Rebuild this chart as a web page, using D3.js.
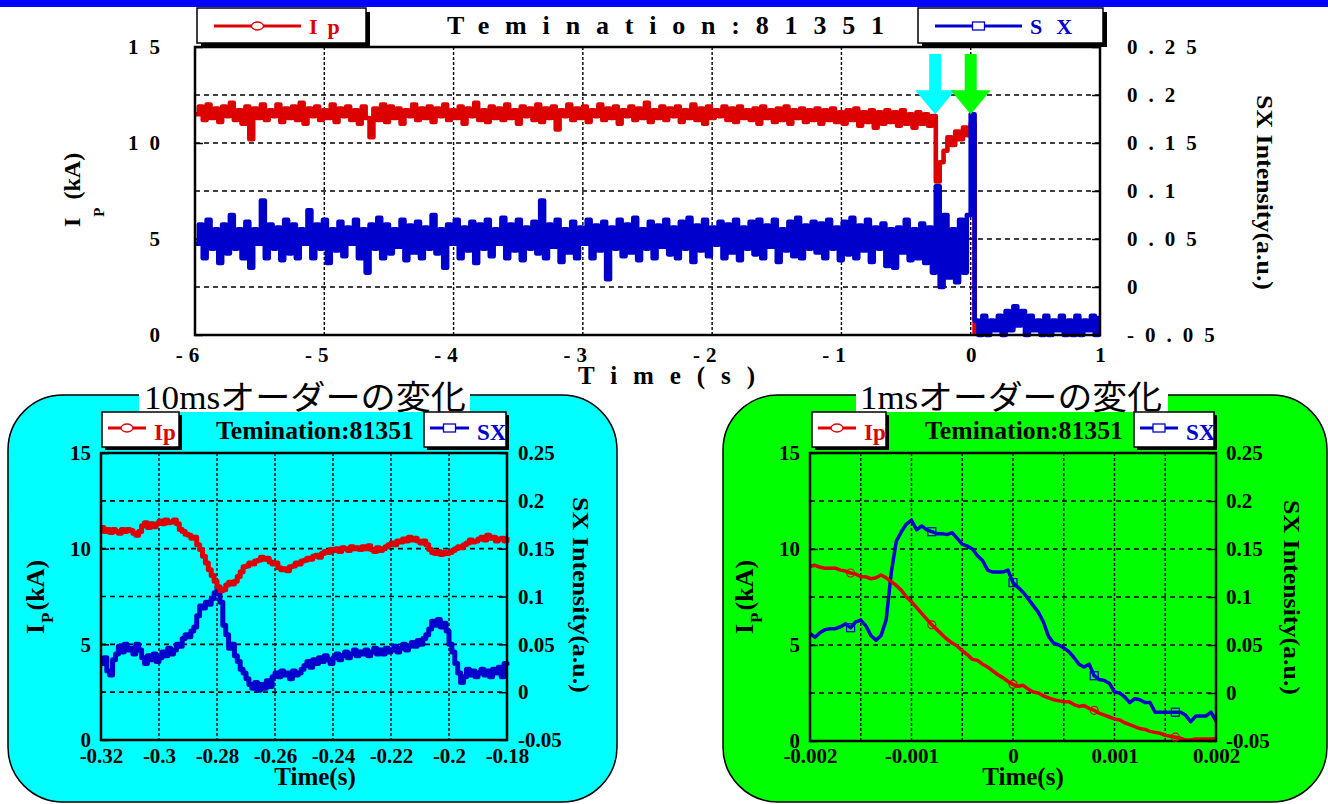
<!DOCTYPE html>
<html lang="ja">
<head>
<meta charset="UTF-8" />
<title>Ip / SX termination 81351</title>
<style>
  * { margin:0; padding:0; }
  body { background:#fff; overflow:hidden; }
  svg { display:block; font-family:'Liberation Serif','Times New Roman',serif; }
</style>
</head>
<body>
<script src="https://d3js.org/d3.v7.min.js"></script>
<script>
  // ---- data ----
  // whole discharge, sampled every 30 ms from -6 s
  const topStart = -6, topStep = 0.03;
  const topIp = [
    11.5,11.9,11.2,12.0,11.3,11.8,11.1,11.9,11.4,12.1,11.2,11.7,11.0,11.9,10.2,11.8,11.3,12.0,11.2,11.7,
    11.4,12.0,11.1,11.8,11.3,11.9,11.2,12.1,11.0,11.8,11.4,11.9,11.2,11.7,11.3,12.0,11.1,11.8,11.4,11.9,
    11.2,11.7,11.0,11.9,11.3,10.3,11.8,11.2,12.0,11.1,11.9,11.3,11.8,11.0,11.7,11.4,12.0,11.2,11.8,11.3,
    11.9,11.1,11.8,11.4,12.0,11.2,11.7,11.3,11.9,11.0,11.8,11.4,12.1,11.2,11.7,11.1,11.9,11.3,11.8,11.2,
    12.0,11.3,11.7,11.0,11.9,11.4,11.8,11.2,12.0,11.1,11.8,11.3,11.9,10.7,11.7,11.4,12.0,11.2,11.8,11.3,
    11.9,11.1,11.7,11.4,12.0,11.2,11.8,11.3,11.9,11.0,11.7,11.4,11.9,11.2,11.8,11.3,12.1,11.1,11.7,11.3,
    11.9,11.2,11.8,11.4,11.9,11.1,11.7,11.3,12.0,11.2,11.8,11.0,11.9,11.3,11.7,11.4,11.9,11.2,11.8,11.1,
    11.9,11.3,11.7,11.2,11.8,11.0,11.9,11.3,11.7,11.1,11.8,11.2,11.9,11.0,11.7,11.3,11.8,11.1,11.7,11.2,
    11.8,11.0,11.7,11.2,11.8,11.1,11.6,11.0,11.7,11.2,11.8,10.9,11.6,11.1,11.7,10.8,11.6,11.0,11.7,11.1,
    11.6,10.9,11.7,11.0,11.5,10.8,11.6,11.0,11.5,10.9,11.4,8.0,9.0,9.6,10.3,9.9,10.6,10.2,10.8,10.4,
    11.0,0
  ];
  const topSx = [
    0.045,0.065,0.03,0.07,0.04,0.06,0.025,0.065,0.035,0.075,0.04,0.06,0.03,0.068,0.02,0.06,0.045,0.09,0.03,0.065,
    0.04,0.062,0.028,0.07,0.035,0.065,0.03,0.06,0.045,0.08,0.03,0.065,0.04,0.07,0.025,0.06,0.038,0.068,0.032,0.062,
    0.045,0.07,0.03,0.06,0.015,0.065,0.04,0.072,0.03,0.065,0.035,0.06,0.042,0.07,0.028,0.064,0.036,0.068,0.03,0.062,
    0.04,0.075,0.035,0.06,0.02,0.065,0.045,0.07,0.03,0.062,0.038,0.068,0.025,0.065,0.04,0.07,0.032,0.06,0.045,0.072,
    0.03,0.065,0.038,0.07,0.028,0.062,0.04,0.068,0.035,0.09,0.03,0.065,0.042,0.07,0.026,0.06,0.036,0.068,0.03,0.062,
    0.045,0.07,0.03,0.064,0.038,0.068,0.008,0.062,0.04,0.07,0.032,0.065,0.036,0.072,0.028,0.06,0.04,0.068,0.03,0.064,
    0.042,0.07,0.034,0.062,0.03,0.068,0.04,0.072,0.026,0.064,0.038,0.07,0.032,0.062,0.044,0.068,0.03,0.065,0.036,0.07,
    0.028,0.062,0.04,0.068,0.034,0.07,0.03,0.064,0.042,0.07,0.026,0.06,0.038,0.068,0.032,0.072,0.03,0.064,0.04,0.068,
    0.036,0.066,0.03,0.07,0.04,0.062,0.028,0.068,0.034,0.072,0.03,0.064,0.038,0.07,0.026,0.062,0.04,0.066,0.022,0.06,
    0.02,0.062,0.036,0.07,0.028,0.06,0.03,0.066,0.025,0.062,0.015,0.105,0.0,0.075,0.01,0.06,0.005,0.07,0.015,0.075,
    0.18,
    -0.035,-0.05,-0.03,-0.05,-0.035,-0.045,-0.03,-0.05,-0.025,-0.045,-0.02,-0.04,-0.025,-0.05,-0.03,-0.045,-0.035,
    -0.05,-0.03,-0.05,-0.035,-0.045,-0.03,-0.05,-0.035,-0.05,-0.03,-0.05,-0.035,-0.045,-0.03,-0.05,-0.03
  ];
  // 10 ms window, sampled every 1 ms from -0.32 s
  const midStart = -0.32, midStep = 0.001;
  const midIp = [
    11.1,10.9,11.0,10.85,11.0,10.9,10.8,11.0,10.9,11.0,
    10.95,10.8,10.7,10.9,11.2,11.35,11.1,11.3,11.15,11.3,
    11.45,11.3,11.5,11.35,11.4,11.5,11.3,11.0,10.9,10.75,
    10.7,10.55,10.6,10.2,9.95,9.6,9.25,8.9,8.6,8.3,
    8.0,7.8,7.85,8.1,8.25,8.15,8.3,8.55,8.8,9.05,
    9.1,9.25,9.2,9.35,9.4,9.55,9.45,9.5,9.3,9.2,
    9.25,9.0,8.9,8.95,8.85,9.05,9.1,9.25,9.2,9.35,
    9.4,9.5,9.45,9.6,9.65,9.55,9.75,9.85,9.8,9.95,
    9.9,10.0,9.85,10.05,10.0,9.9,10.1,10.0,10.05,9.95,
    10.1,10.0,10.15,9.95,9.85,10.05,9.9,10.0,10.1,10.2,
    10.3,10.2,10.4,10.35,10.5,10.4,10.6,10.45,10.55,10.4,
    10.3,10.4,10.2,9.95,9.8,9.75,9.85,9.7,9.8,9.75,
    9.8,9.9,10.0,10.1,10.05,10.2,10.3,10.45,10.35,10.4,
    10.5,10.6,10.45,10.7,10.55,10.6,10.4,10.5,10.55,10.4,
    10.6
  ];
  const midSx = [
    0.030,0.036,0.022,0.018,0.034,0.040,0.048,0.042,0.050,0.044,
    0.046,0.040,0.050,0.044,0.036,0.030,0.038,0.034,0.040,0.032,
    0.036,0.042,0.038,0.046,0.040,0.044,0.050,0.048,0.056,0.060,
    0.058,0.064,0.068,0.080,0.090,0.088,0.094,0.092,0.098,0.104,
    0.110,0.094,0.070,0.060,0.046,0.050,0.038,0.032,0.024,0.020,
    0.014,0.008,0.004,0.010,0.002,0.008,0.004,0.012,0.006,0.016,
    0.020,0.016,0.022,0.018,0.020,0.014,0.022,0.018,0.020,0.024,
    0.028,0.032,0.026,0.034,0.030,0.036,0.032,0.038,0.034,0.030,
    0.036,0.040,0.034,0.038,0.042,0.036,0.040,0.044,0.038,0.042,
    0.040,0.044,0.038,0.042,0.046,0.040,0.044,0.040,0.046,0.042,
    0.044,0.048,0.042,0.046,0.050,0.044,0.048,0.052,0.048,0.054,
    0.050,0.056,0.060,0.066,0.074,0.070,0.076,0.068,0.072,0.064,
    0.050,0.042,0.030,0.020,0.010,0.016,0.024,0.018,0.022,0.016,
    0.020,0.024,0.018,0.022,0.016,0.024,0.020,0.026,0.016,0.030,
    0.028
  ];
  // 1 ms window, sampled every 50 us from -0.002 s
  const fineStart = -0.002, fineStep = 0.00005;
  const fineIp = [
    9.1,9.15,9.05,9.0,9.0,9.0,8.9,8.85,8.75,8.7,
    8.55,8.55,8.45,8.5,8.65,8.5,8.3,8.1,7.85,7.5,
    7.25,6.95,6.65,6.35,6.05,5.8,5.55,5.3,5.1,4.95,
    4.7,4.5,4.25,4.2,4.0,3.85,3.65,3.45,3.3,3.1,
    2.95,2.85,2.9,2.7,2.55,2.5,2.35,2.25,2.15,2.1,
    2.05,2.05,1.9,1.8,1.85,1.7,1.6,1.45,1.35,1.25,
    1.15,1.1,0.95,0.85,0.75,0.65,0.6,0.5,0.45,0.4,
    0.3,0.25,0.2,0.15,0.05,0.05,0.1,0.1,0.1,0.1,
    0.12
  ];
  const fineSx = [
    0.062,0.058,0.063,0.066,0.067,0.067,0.069,0.072,0.068,0.074,
    0.076,0.070,0.060,0.055,0.060,0.076,0.125,0.158,0.168,0.176,
    0.180,0.170,0.174,0.170,0.168,0.166,0.166,0.165,0.167,0.161,
    0.155,0.153,0.150,0.143,0.138,0.128,0.126,0.126,0.126,0.128,
    0.115,0.110,0.105,0.098,0.091,0.084,0.074,0.059,0.052,0.050,
    0.047,0.043,0.037,0.030,0.027,0.030,0.018,0.014,0.013,0.010,
    0.001,0.000,-0.004,-0.010,-0.006,-0.007,-0.010,-0.010,-0.020,-0.020,
    -0.020,-0.020,-0.020,-0.020,-0.023,-0.030,-0.024,-0.024,-0.024,-0.020,
    -0.029
  ];
  const fineMarkerIdx = [8, 24, 40, 56, 72];

  const ipTicks = [0, 5, 10, 15];
  const sxTicks = [-0.05, 0, 0.05, 0.1, 0.15, 0.2, 0.25];
  const topXTicks = [-6, -5, -4, -3, -2, -1, 0, 1];
  const midXTicks = [-0.32, -0.3, -0.28, -0.26, -0.24, -0.22, -0.2, -0.18];
  const fineXTicks = [-0.002, -0.001, 0, 0.001, 0.002];
  const fineXGrid = [-0.0015, -0.001, -0.0005, 0, 0.0005, 0.001, 0.0015];
  const arrowTimes = [-0.275, 0.0];
  const arrowLevel = 0.18;
  const shotTitle = 'Temination:81351';
  const panelTitles = ['10msオーダーの変化', '1msオーダーの変化'];

  const RED = '#dc0000', BLUE = '#0000cc';
  const SERIF = "'Liberation Serif','Times New Roman',serif";

  const svg = d3.select('body').append('svg').attr('width', 1328).attr('height', 804);

  const toSeries = (arr, start, step) => arr.map((v, i) => ({ t: start + i * step, v }));
  const fmt = d => String(+d.toFixed(4));

  // top blue band
  svg.append('rect').attr('x', 0).attr('y', 0).attr('width', 1328).attr('height', 7).attr('fill', '#0000ff');

  // coloured panels behind the two zoomed charts
  svg.append('rect').attr('x', 8).attr('y', 395).attr('width', 609).attr('height', 407).attr('rx', 55)
    .attr('fill', '#00ffff').attr('stroke', '#000').attr('stroke-width', 1.5);
  svg.append('rect').attr('x', 723).attr('y', 395).attr('width', 604).attr('height', 407).attr('rx', 55)
    .attr('fill', '#00ff00').attr('stroke', '#000').attr('stroke-width', 1.5);

  function drawChart(o) {
    const g = svg.append('g');
    const x = d3.scaleLinear().domain(o.xDomain).range([o.left, o.right]);
    const yI = d3.scaleLinear().domain([0, 15]).range([o.bottom, o.top]);
    const yS = d3.scaleLinear().domain([-0.05, 0.25]).range([o.bottom, o.top]);

    // grid
    g.append('g').selectAll('line').data(sxTicks.slice(1, -1)).join('line')
      .attr('x1', o.left).attr('x2', o.right).attr('y1', d => yS(d)).attr('y2', d => yS(d))
      .attr('stroke', '#000').attr('stroke-width', 1.6).attr('stroke-dasharray', '5,4');
    g.append('g').selectAll('line').data(o.xGrid).join('line')
      .attr('x1', d => x(d)).attr('x2', d => x(d)).attr('y1', o.top).attr('y2', o.bottom)
      .attr('stroke', '#000').attr('stroke-width', 1.4).attr('stroke-dasharray', '3,2');

    const styleAxis = a => {
      a.select('.domain').remove();
      a.attr('font-family', SERIF).attr('font-size', o.fs).attr('font-weight', 'bold');
      a.selectAll('line').attr('stroke', '#000').attr('stroke-width', 1.5);
      a.selectAll('text').attr('fill', '#000').attr('letter-spacing', o.ls || null);
    };
    g.append('g').attr('transform', `translate(${o.left},0)`)
      .call(d3.axisLeft(yI).tickValues(ipTicks).tickSizeInner(-8).tickSizeOuter(0).tickPadding(o.padL).tickFormat(fmt))
      .call(styleAxis);
    g.append('g').attr('transform', `translate(${o.right},0)`)
      .call(d3.axisRight(yS).tickValues(sxTicks).tickSizeInner(-8).tickSizeOuter(0).tickPadding(o.padR).tickFormat(fmt))
      .call(styleAxis);
    const xa = g.append('g').attr('transform', `translate(0,${o.bottom})`)
      .call(d3.axisBottom(x).tickValues(o.xTicks).tickSizeInner(0).tickSizeOuter(0).tickPadding(o.padB).tickFormat(fmt))
      .call(styleAxis);
    if (o.xls) xa.selectAll('text').attr('letter-spacing', o.xls).attr('dx', d => d < 0 ? -5 : 3);

    // series
    const path = (data, y, color) => g.append('path').datum(data)
      .attr('d', d3.line().x(d => x(d.t)).y(d => y(d.v)).curve(o.curve))
      .attr('fill', 'none').attr('stroke', color).attr('stroke-width', o.lw).attr('stroke-linejoin', 'round');
    if (o.sxFirst) { path(o.sx, yS, BLUE); path(o.ip, yI, RED); }
    else { path(o.ip, yI, RED); path(o.sx, yS, BLUE); }

    // frame
    g.append('rect').attr('x', o.left).attr('y', o.top).attr('width', o.right - o.left).attr('height', o.bottom - o.top)
      .attr('fill', 'none').attr('stroke', '#000').attr('stroke-width', 2.5);
    return { g, x, yI, yS };
  }

  function legendBox(x0, y0, w, h, sh) {
    svg.append('rect').attr('x', x0 + sh).attr('y', y0 + sh).attr('width', w).attr('height', h).attr('fill', '#000');
    svg.append('rect').attr('x', x0).attr('y', y0).attr('width', w).attr('height', h)
      .attr('fill', '#fff').attr('stroke', '#000').attr('stroke-width', 1.5);
  }
  function legendEntry(x1, x2, y, ty, color, label, fs, ls, square) {
    svg.append('line').attr('x1', x1).attr('x2', x2).attr('y1', y).attr('y2', y)
      .attr('stroke', color).attr('stroke-width', 3);
    const mx = (x1 + x2) / 2;
    if (square) svg.append('rect').attr('x', mx - 6).attr('y', y - 4).attr('width', 12).attr('height', 8)
      .attr('fill', '#fff').attr('stroke', color).attr('stroke-width', 1.3);
    else svg.append('ellipse').attr('cx', mx).attr('cy', y).attr('rx', 6).attr('ry', 4)
      .attr('fill', '#fff').attr('stroke', color).attr('stroke-width', 1.3);
    svg.append('text').attr('x', x2 + 8).attr('y', ty).attr('fill', color).attr('font-size', fs)
      .attr('font-weight', 'bold').attr('letter-spacing', ls || null).text(label);
  }
  function rotText(x, y, angle, size, txt, len) {
    const t = svg.append('text').attr('transform', `translate(${x},${y}) rotate(${angle})`)
      .attr('font-size', size).attr('font-weight', 'bold').attr('fill', '#000').text(txt);
    if (len) t.attr('textLength', len).attr('lengthAdjust', 'spacingAndGlyphs');
    return t;
  }
  function ipTitle(x, y, size, sub, subDy, gap) {
    const t = svg.append('text').attr('transform', `translate(${x},${y}) rotate(-90)`)
      .attr('font-size', size).attr('font-weight', 'bold').attr('fill', '#000');
    t.append('tspan').text('I');
    t.append('tspan').attr('dy', subDy).attr('dx', 1).attr('font-size', sub).text('P');
    t.append('tspan').attr('dy', -subDy).attr('dx', gap).text('(kA)');
  }

  // ---------- top chart: whole shot ----------
  const mainChart = drawChart({
    left: 195, right: 1100, top: 47, bottom: 335, xDomain: [-6, 1],
    xTicks: topXTicks, xGrid: topXTicks.slice(1, -1),
    ip: toSeries(topIp, topStart, topStep), sx: toSeries(topSx, topStart, topStep),
    curve: d3.curveStepAfter, lw: 4.6, fs: 21, ls: 11, xls: 6, padL: 24, padR: 27, padB: 12
  });
  legendBox(197, 8, 169, 35, 4);
  legendEntry(214, 301, 26, 34, RED, 'Ip', 22, 10, false);
  legendBox(918, 8, 185, 35, 4);
  legendEntry(935, 1022, 26, 34, BLUE, 'SX', 22, 14, true);
  svg.append('text').attr('x', 447).attr('y', 34).attr('font-size', 26).attr('font-weight', 'bold')
    .attr('textLength', 437).attr('lengthAdjust', 'spacing').text(shotTitle);
  svg.append('text').attr('x', 578).attr('y', 384).attr('font-size', 25).attr('font-weight', 'bold')
    .attr('textLength', 177).attr('lengthAdjust', 'spacing').text('Time(s)');
  ipTitle(80, 227, 24, 15, 24, 8);
  rotText(1257, 95, 90, 24, 'SX Intensity(a.u.)', 195);

  // arrows marking the two zoomed instants
  const arrowColors = ['#00ffff', '#00ff00'];
  arrowTimes.forEach((t, i) => {
    const cx = mainChart.x(t), tip = mainChart.yS(arrowLevel);
    const pts = [[cx - 6, 54], [cx + 6, 54], [cx + 6, tip - 24], [cx + 20, tip - 24], [cx, tip],
                 [cx - 20, tip - 24], [cx - 6, tip - 24]];
    svg.append('polygon').attr('points', pts.map(p => p.join(',')).join(' ')).attr('fill', arrowColors[i]);
  });

  // ---------- panel titles ----------
  [[139, 331, 144, 322], [856, 312, 860, 302]].forEach(([bx, bw, tx, tl], i) => {
    svg.append('rect').attr('x', bx).attr('y', 381).attr('width', bw).attr('height', 31).attr('fill', '#fff');
    svg.append('text').attr('x', tx).attr('y', 409).attr('font-size', 33)
      .attr('font-family', "'Liberation Serif','Noto Sans CJK JP',serif")
      .attr('textLength', tl).attr('lengthAdjust', 'spacingAndGlyphs').text(panelTitles[i]);
  });

  // ---------- 10 ms chart ----------
  drawChart({
    left: 101, right: 507, top: 453, bottom: 740, xDomain: [-0.32, -0.18],
    xTicks: midXTicks, xGrid: midXTicks.slice(1, -1),
    ip: toSeries(midIp, midStart, midStep), sx: toSeries(midSx, midStart, midStep),
    curve: d3.curveStepAfter, lw: 5, fs: 21, padL: 10, padR: 11, padB: 8, sxFirst: true
  });
  legendBox(102, 412, 77, 35, 3);
  legendEntry(108, 146, 428, 440, RED, 'Ip', 23, null, false);
  legendBox(424, 412, 82, 35, 3);
  legendEntry(430, 469, 428, 440, BLUE, 'SX', 23, null, true);
  svg.append('text').attr('x', 315).attr('y', 439).attr('text-anchor', 'middle').attr('font-size', 25)
    .attr('font-weight', 'bold').attr('textLength', 198).attr('lengthAdjust', 'spacingAndGlyphs').text(shotTitle);
  svg.append('text').attr('x', 315).attr('y', 785).attr('text-anchor', 'middle').attr('font-size', 25)
    .attr('font-weight', 'bold').text('Time(s)');
  ipTitle(44, 634, 26, 17, 9, 2);
  rotText(573, 497, 90, 24, 'SX Intensity(a.u.)', 196);

  // ---------- 1 ms chart ----------
  const fine = drawChart({
    left: 810, right: 1216, top: 453, bottom: 741, xDomain: [-0.002, 0.002],
    xTicks: fineXTicks, xGrid: fineXGrid,
    ip: toSeries(fineIp, fineStart, fineStep), sx: toSeries(fineSx, fineStart, fineStep),
    curve: d3.curveLinear, lw: 3.5, fs: 21, padL: 10, padR: 10, padB: 7, sxFirst: true
  });
  fine.g.append('g').selectAll('circle').data(fineMarkerIdx).join('circle')
    .attr('cx', i => fine.x(fineStart + i * fineStep)).attr('cy', i => fine.yI(fineIp[i])).attr('r', 4)
    .attr('fill', 'none').attr('stroke', RED).attr('stroke-width', 1.2);
  fine.g.append('g').selectAll('rect').data(fineMarkerIdx).join('rect')
    .attr('x', i => fine.x(fineStart + i * fineStep) - 4).attr('y', i => fine.yS(fineSx[i]) - 4)
    .attr('width', 8).attr('height', 8).attr('fill', 'none').attr('stroke', BLUE).attr('stroke-width', 1.2);
  legendBox(812, 412, 74, 35, 3);
  legendEntry(818, 856, 428, 440, RED, 'Ip', 23, null, false);
  legendBox(1134, 412, 80, 35, 3);
  legendEntry(1140, 1178, 428, 440, BLUE, 'SX', 23, null, true);
  svg.append('text').attr('x', 1024).attr('y', 439).attr('text-anchor', 'middle').attr('font-size', 25)
    .attr('font-weight', 'bold').attr('textLength', 198).attr('lengthAdjust', 'spacingAndGlyphs').text(shotTitle);
  svg.append('text').attr('x', 1023).attr('y', 785).attr('text-anchor', 'middle').attr('font-size', 25)
    .attr('font-weight', 'bold').text('Time(s)');
  ipTitle(753, 634, 26, 17, 9, 2);
  rotText(1284, 500, 90, 24, 'SX Intensity(a.u.)', 195);
</script>
</body>
</html>
